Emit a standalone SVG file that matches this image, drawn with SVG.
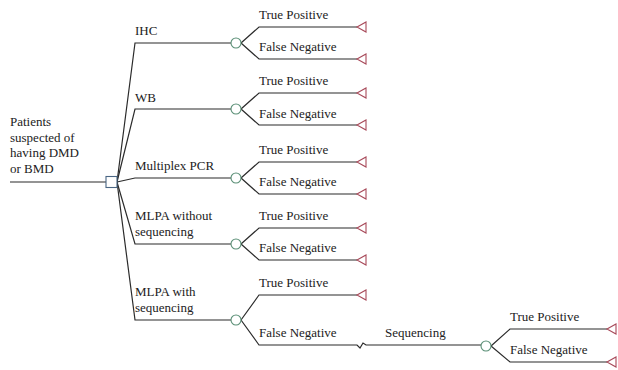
<svg xmlns="http://www.w3.org/2000/svg" width="618" height="370" viewBox="0 0 618 370">
<style>
.ln{fill:none;stroke:#2b2b2b;stroke-width:1.2}
.dec{fill:#fff;stroke:#4a6684;stroke-width:1.1}
.ch{fill:#fff;stroke:#5a8f76;stroke-width:1.1}
.term{fill:#fff;stroke:#a84a5a;stroke-width:1.1}
text{font-family:"Liberation Serif","Times New Roman",serif;font-size:13px;fill:#222}
</style>
<defs>
<polygon id="tri" class="term" points="0,0 9,-5 9,5"/>
</defs>
<rect width="618" height="370" fill="#fff"/>
<g id="connectors">
<path class="ln" d="M10,182 H106"/>
<path class="ln" d="M117,182 L135,43 H231"/>
<path class="ln" d="M117,182 L135,109 H231"/>
<path class="ln" d="M117,182 L135,178 H231"/>
<path class="ln" d="M117,182 L135,244 H231"/>
<path class="ln" d="M117,182 L135,320 H231"/>
<path class="ln" d="M241,43 L259,27 H357 M241,43 L259,59 H357"/>
<path class="ln" d="M241,109 L259,93 H357 M241,109 L259,125 H357"/>
<path class="ln" d="M241,178 L259,162 H357 M241,178 L259,194 H357"/>
<path class="ln" d="M241,244 L259,228 H357 M241,244 L259,260 H357"/>
<path class="ln" d="M241,320 L259,295 H357 M241,320 L259,345 H357 L360,348 L363,343 L366,345 H481"/>
<path class="ln" d="M491,346 L510,329 H607 M491,346 L510,362 H607"/>
</g>
<g id="root">
<text x="10" y="126">Patients</text>
<text x="10" y="141.5">suspected of</text>
<text x="10" y="157">having DMD</text>
<text x="10" y="172.5">or BMD</text>
<rect class="dec" x="106" y="176.5" width="11" height="11"/>
</g>
<g id="ihc">
<text x="135" y="35">IHC</text>
<circle class="ch" cx="236" cy="43" r="5"/>
<text x="259" y="19">True Positive</text>
<text x="259" y="51">False Negative</text>
<use href="#tri" x="357" y="27"/>
<use href="#tri" x="357" y="59"/>
</g>
<g id="wb">
<text x="135" y="102">WB</text>
<circle class="ch" cx="236" cy="109" r="5"/>
<text x="259" y="85">True Positive</text>
<text x="259" y="118">False Negative</text>
<use href="#tri" x="357" y="93"/>
<use href="#tri" x="357" y="125"/>
</g>
<g id="pcr">
<text x="135" y="170">Multiplex PCR</text>
<circle class="ch" cx="236" cy="178" r="5"/>
<text x="259" y="154">True Positive</text>
<text x="259" y="186">False Negative</text>
<use href="#tri" x="357" y="162"/>
<use href="#tri" x="357" y="194"/>
</g>
<g id="mlpa-without">
<text x="135" y="220">MLPA without</text>
<text x="135" y="235.5">sequencing</text>
<circle class="ch" cx="236" cy="244" r="5"/>
<text x="259" y="220">True Positive</text>
<text x="259" y="252">False Negative</text>
<use href="#tri" x="357" y="228"/>
<use href="#tri" x="357" y="260"/>
</g>
<g id="mlpa-with">
<text x="135" y="296">MLPA with</text>
<text x="135" y="311.5">sequencing</text>
<circle class="ch" cx="236" cy="320" r="5"/>
<text x="259" y="287">True Positive</text>
<text x="259" y="337">False Negative</text>
<use href="#tri" x="357" y="295"/>
</g>
<g id="sequencing">
<text x="385" y="337">Sequencing</text>
<circle class="ch" cx="486" cy="346" r="5"/>
<text x="510" y="321">True Positive</text>
<text x="510" y="354">False Negative</text>
<use href="#tri" x="607" y="329"/>
<use href="#tri" x="607" y="362"/>
</g>
</svg>
